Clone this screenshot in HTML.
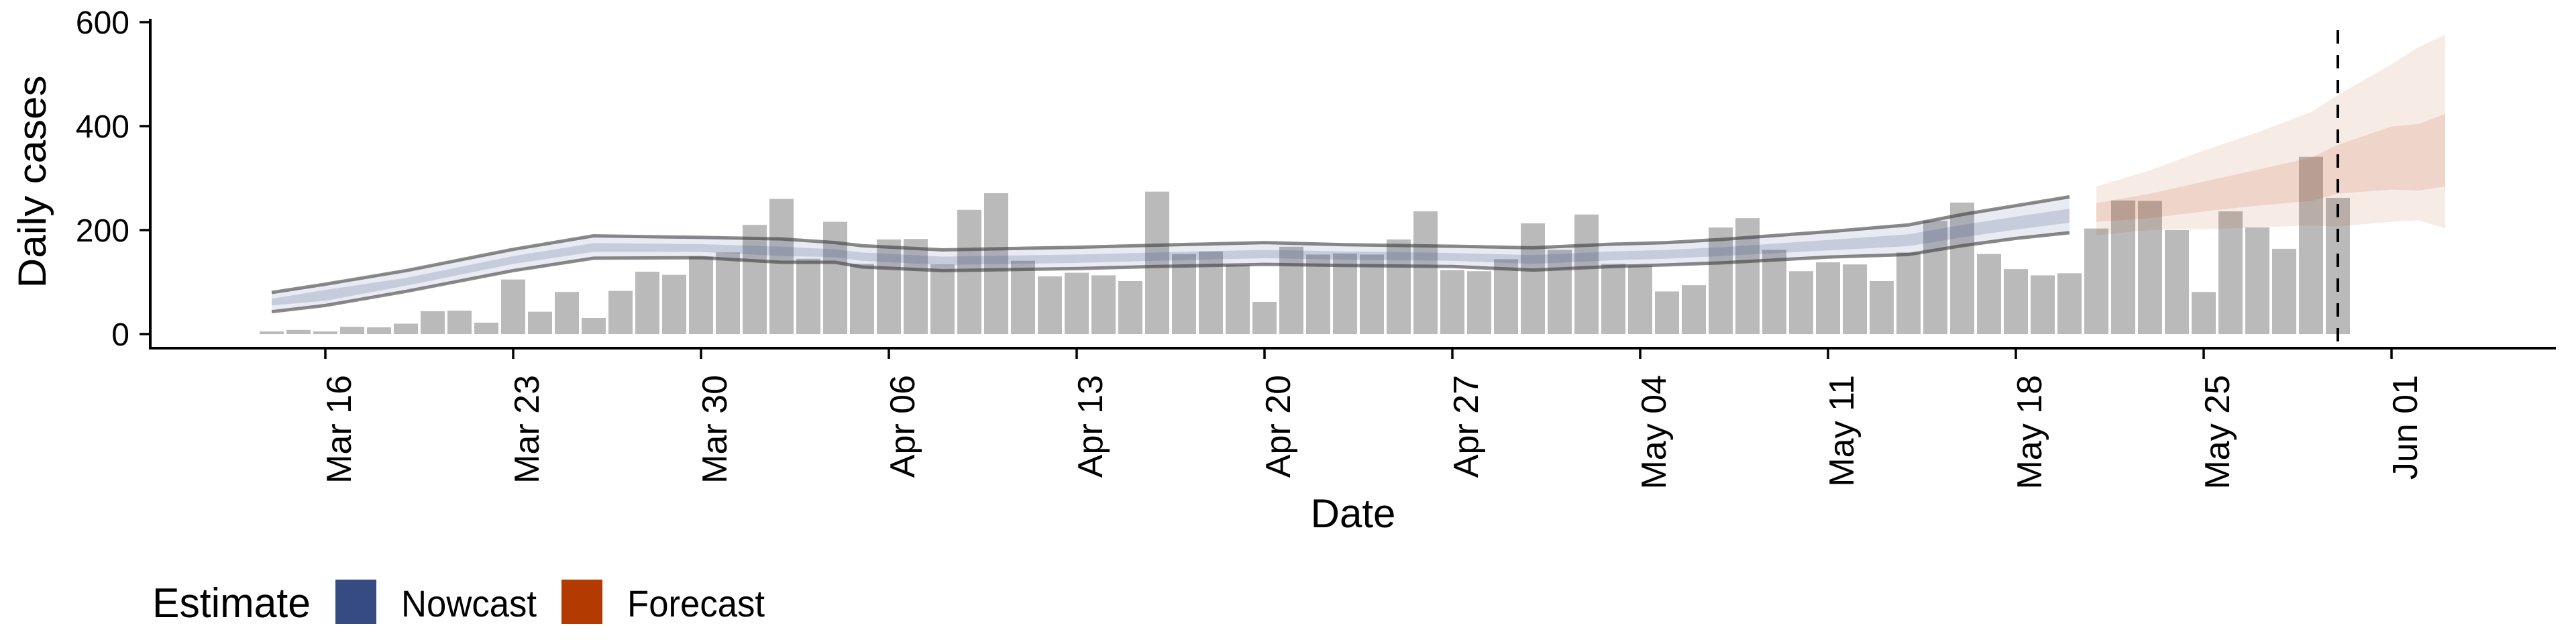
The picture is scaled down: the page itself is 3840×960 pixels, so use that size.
<!DOCTYPE html>
<html><head><meta charset="utf-8"><style>
html,body{margin:0;padding:0;background:#fff;}
svg{display:block;font-family:"Liberation Sans",Arial,sans-serif;}
</style></head><body>
<svg id="chart" width="3840" height="960" viewBox="0 0 3840 960" xmlns="http://www.w3.org/2000/svg">
<g id="bands-under"></g>
<g id="bars"></g>
<g id="bands"></g>
<g id="axes"></g>
<g id="legend">
  <text x="227" y="920" font-size="62" textLength="236" lengthAdjust="spacingAndGlyphs">Estimate</text>
  <rect x="500" y="864" width="61" height="66" fill="#354b82"/>
  <text x="598" y="919" font-size="56" textLength="202" lengthAdjust="spacingAndGlyphs">Nowcast</text>
  <rect x="837" y="864" width="61" height="66" fill="#b33a00"/>
  <text x="935" y="919" font-size="56" textLength="205" lengthAdjust="spacingAndGlyphs">Forecast</text>
</g>
</svg>
<script>
// ---- data ----
const barValues = [5,8,5,14,13,20,44,45,22,105,43,81,31,83,120,114,149,157,
210,260,145,216,135,182,183,134,239,271,141,111,118,113,102,274,154,159,133,62,168,153,155,153,182,236,123,121,144,213,
162,230,135,132,82,94,205,223,162,121,138,134,102,157,218,253,154,125,113,117,203,257,256,200,81,236,205,164,341,262];
const nowDays  = [0,2,5,9,12,16,19,21,22,25,30,33,37,40,44,47,50,52,54,58,61,63,65,67];
const nowUpper = [80,96,122,163,189,186,183,176,170,162,167,171,176,172,169,166,173,176,182,197,210,230,247,264];
const nowLower = [43,55,82,122,146,147,138,138,129,122,126,130,134,132,130,123,130,133,137,148,153,170,184,195];
const nowMidUp = [68,85,108,150,175,173,168,163,157,149,153,157,162,159,156,152,159,162,167,181,192,210,226,241];
const nowMidLo = [55,64,93,135,158,158,150,148,141,133,137,141,146,143,141,135,142,145,150,161,169,186,201,214];
const fcDays   = [68,70,72,74,76,77,79,80,81];
const fcUpper  = [284,315,353,388,427,460,519,552,576];
const fcLower  = [190,200,202,205,209,207,216,219,203];
const fcMidUp  = [252,270,293,316,339,364,399,404,423];
const fcMidLo  = [216,223,236,247,256,270,278,276,284];
const tickDays   = [2,9,16,23,30,37,44,51,58,65,72,79];
const tickLabels = ["Mar 16","Mar 23","Mar 30","Apr 06","Apr 13","Apr 20","Apr 27","May 04","May 11","May 18","May 25","Jun 01"];
const yTicks = [0,200,400,600];
const forecastDateDay = 77;

// ---- scales ----
const NS = "http://www.w3.org/2000/svg";
function xs(d){ return 405 + 40*d; }
function ys(v){ return 498 - v*0.775; }
function mk(tag, attrs, parent){
  const e = document.createElementNS(NS, tag);
  for (const k in attrs) e.setAttribute(k, attrs[k]);
  parent.appendChild(e); return e;
}
function ribbon(days, up, lo){
  let p = "";
  days.forEach((d,i)=>{ p += (i?"L":"M") + xs(d) + "," + ys(up[i]); });
  for (let i=days.length-1;i>=0;i--) p += "L" + xs(days[i]) + "," + ys(lo[i]);
  return p + "Z";
}
function line(days, vals){
  return days.map((d,i)=>(i?"L":"M")+xs(d)+","+ys(vals[i])).join("");
}

// bars
const gb = document.getElementById("bars");
barValues.forEach((v,i)=>{
  const r = mk("rect",{x:xs(i)-18,y:ys(v),width:36,height:ys(0)-ys(v),fill:"#bababa"},gb);
  
  
});

// bands
const gs = document.getElementById("bands");
let e;
e = mk("path",{d:ribbon(nowDays,nowUpper,nowLower),fill:"#354b87","fill-opacity":0.11},gs);


e = mk("path",{d:ribbon(nowDays,nowMidUp,nowMidLo),fill:"#354b87","fill-opacity":0.19},gs);


e = mk("path",{d:line(nowDays,nowUpper),fill:"none",stroke:"#3c3c3c","stroke-opacity":0.6,"stroke-width":5},gs);


e = mk("path",{d:line(nowDays,nowLower),fill:"none",stroke:"#3c3c3c","stroke-opacity":0.6,"stroke-width":5},gs);


e = mk("path",{d:ribbon(fcDays,fcUpper,fcLower),fill:"#b33c0b","fill-opacity":0.1},gs);


e = mk("path",{d:ribbon(fcDays,fcMidUp,fcMidLo),fill:"#b33c0b","fill-opacity":0.13},gs);



// axes
const ga = document.getElementById("axes");
e = mk("line",{x1:xs(forecastDateDay),x2:xs(forecastDateDay),y1:45,y2:519,stroke:"#000","stroke-width":4,"stroke-dasharray":"20 17"},ga);


e = mk("line",{x1:224,x2:224,y1:28,y2:521,stroke:"#000","stroke-width":4},ga);


e = mk("line",{x1:222,x2:3810,y1:519,y2:519,stroke:"#000","stroke-width":4},ga);


yTicks.forEach(v=>{
  const t = mk("line",{x1:208,x2:224,y1:ys(v),y2:ys(v),stroke:"#000","stroke-width":3.5},ga);
  
  
  const l = mk("text",{x:193,y:ys(v)+17,"font-size":48,"text-anchor":"end"},ga);
  l.textContent = String(v);
  
  
});
tickDays.forEach((d,i)=>{
  const t = mk("line",{x1:xs(d),x2:xs(d),y1:519,y2:535,stroke:"#000","stroke-width":3.5},ga);
  
  
  const bx = xs(d)+38;
  const l = mk("text",{x:bx,y:559,"font-size":52,"text-anchor":"end",transform:"rotate(-90 "+bx+" 559)"},ga);
  l.textContent = tickLabels[i];
  
  
});
e = mk("text",{x:2017,y:786,"font-size":60,"text-anchor":"middle"},ga);
e.textContent = "Date";


e = mk("text",{x:68,y:271,"font-size":58,"text-anchor":"middle",textLength:317,lengthAdjust:"spacingAndGlyphs",transform:"rotate(-90 68 271)"},ga);
e.textContent = "Daily cases";


</script>
</body></html>
